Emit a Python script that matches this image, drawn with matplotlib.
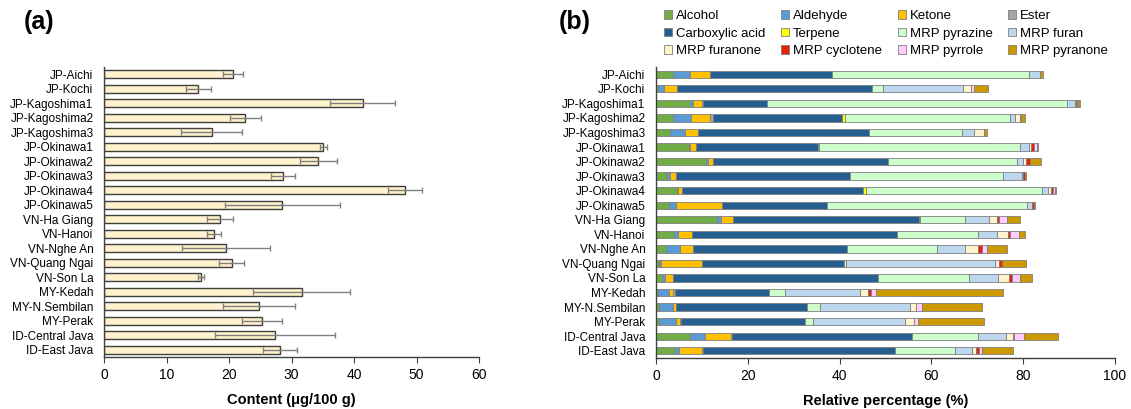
import numpy as np
import matplotlib
matplotlib.use('Agg')
import matplotlib.pyplot as plt

plt.rcParams['font.family'] = ['Liberation Sans', 'DejaVu Sans']

samples = ['JP-Aichi', 'JP-Kochi', 'JP-Kagoshima1', 'JP-Kagoshima2', 'JP-Kagoshima3',
           'JP-Okinawa1', 'JP-Okinawa2', 'JP-Okinawa3', 'JP-Okinawa4', 'JP-Okinawa5',
           'VN-Ha Giang', 'VN-Hanoi', 'VN-Nghe An', 'VN-Quang Ngai', 'VN-Son La',
           'MY-Kedah', 'MY-N.Sembilan', 'MY-Perak', 'ID-Central Java', 'ID-East Java']

# (a) total content and SD
content = [20.6, 15.1, 41.4, 22.6, 17.2, 35.1, 34.3, 28.6, 48.2, 28.5,
           18.6, 17.6, 19.5, 20.4, 15.5, 31.6, 24.8, 25.3, 27.3, 28.1]
content_sd = [1.6, 2.0, 5.2, 2.5, 4.9, 0.5, 2.9, 1.9, 2.7, 9.2,
              2.1, 1.1, 7.0, 2.0, 0.5, 7.7, 5.8, 3.2, 9.6, 2.7]

# (b) relative percentage by class
alcohol    = [3.8, 0.5, 7.4, 3.6, 3.0, 7.1, 11.0, 2.5, 4.5, 2.9, 13.2, 4.0, 2.25, 0.7, 1.2, 0.4, 0.7, 0.65, 7.3, 4.1]
aldehyde   = [3.5, 1.3, 0.7, 4.0, 3.3, 0.4, 0.4, 0.6, 0.2, 1.4, 1.0, 0.9, 3.05, 0.4, 0.7, 2.5, 3.05, 3.6, 3.4, 1.0]
ketone     = [4.4, 2.7, 2.0, 4.2, 2.9, 1.2, 1.1, 1.2, 0.9, 10.1, 2.6, 3.0, 2.8, 8.9, 1.7, 0.9, 0.7, 0.9, 5.7, 5.0]
ester      = [0.0, 0.0, 0.2, 0.6, 0.0, 0.0, 0.0, 0.0, 0.0, 0.0, 0.0, 0.0, 0.0, 0.0, 0.0, 0.4, 0.0, 0.2, 0.2, 0.2]
carboxylic = [26.6, 42.6, 13.9, 28.2, 37.2, 26.5, 38.0, 37.9, 39.6, 22.8, 40.4, 44.7, 33.6, 30.9, 44.8, 20.5, 28.5, 27.2, 39.1, 41.7]
terpene    = [0.0, 0.0, 0.0, 0.6, 0.0, 0.4, 0.0, 0.0, 0.5, 0.0, 0.4, 0.0, 0.0, 0.0, 0.0, 0.0, 0.0, 0.0, 0.0, 0.0]
pyrazine   = [42.9, 2.4, 65.4, 35.9, 20.3, 43.7, 28.2, 33.5, 38.3, 43.7, 9.8, 17.6, 19.6, 0.4, 19.9, 3.3, 2.7, 1.7, 14.5, 13.2]
furan      = [2.5, 17.3, 1.6, 1.1, 2.5, 1.9, 1.2, 4.0, 1.3, 1.0, 5.2, 4.1, 6.0, 32.5, 6.2, 16.4, 19.6, 20.0, 6.0, 3.6]
furanone   = [0.0, 1.9, 0.3, 1.0, 2.3, 0.6, 0.8, 0.3, 0.7, 0.0, 1.7, 2.3, 2.9, 0.9, 2.5, 1.8, 1.45, 1.9, 1.5, 0.9]
cyclotene  = [0.0, 0.0, 0.2, 0.0, 0.0, 0.6, 0.7, 0.4, 0.6, 0.5, 0.4, 0.6, 0.8, 0.6, 0.6, 0.6, 0.0, 0.0, 0.4, 0.6]
pyrrole    = [0.0, 0.65, 0.2, 0.4, 0.0, 0.5, 0.0, 0.0, 0.3, 0.0, 1.7, 1.8, 1.2, 0.0, 1.7, 1.2, 1.2, 0.9, 2.0, 0.65]
pyranone   = [0.6, 2.9, 0.4, 0.8, 0.6, 0.4, 2.5, 0.3, 0.3, 0.2, 2.8, 1.4, 4.3, 5.4, 2.7, 27.7, 13.1, 14.5, 7.5, 6.75]

classes = ['Alcohol', 'Aldehyde', 'Ketone', 'Ester', 'Carboxylic acid', 'Terpene',
           'MRP pyrazine', 'MRP furan', 'MRP furanone', 'MRP cyclotene', 'MRP pyrrole', 'MRP pyranone']
series = [alcohol, aldehyde, ketone, ester, carboxylic, terpene,
          pyrazine, furan, furanone, cyclotene, pyrrole, pyranone]
colors = ['#70AD47', '#5B9BD5', '#FFC000', '#A5A5A5', '#255E91', '#FFFF00',
          '#CCFFCC', '#BDD7EE', '#FFF2CC', '#E8220A', '#FFCCFF', '#CC9900']

fig = plt.figure(figsize=(11.31, 4.09), dpi=100)
ax1 = fig.add_axes([104 / 1131, 1 - 357 / 409, 375 / 1131, 290 / 409])
ax2 = fig.add_axes([656 / 1131, 1 - 358 / 409, 459 / 1131, 291 / 409])

y = np.arange(len(samples))

# (a)
ax1.barh(y, content, height=0.55, color='#FFF2CC', edgecolor='#3F3F3F', linewidth=1.0, zorder=2)
ax1.errorbar(content, y, xerr=content_sd, fmt='none', ecolor='#808080', elinewidth=1.0,
             capsize=2.5, capthick=1.0, zorder=3)
ax1.set_xlim(0, 60)
ax1.set_xticks(np.arange(0, 61, 10))
ax1.set_ylim(len(samples) - 0.5, -0.5)
ax1.set_yticks(y)
ax1.set_yticklabels(samples)
ax1.set_xlabel('Content (μg/100 g)', fontsize=10.5, fontweight='bold', labelpad=8)

# (b)
left = np.zeros(len(samples))
for name, vals, c in zip(classes, series, colors):
    ax2.barh(y, vals, left=left, height=0.5, color=c, edgecolor='#7F7F7F',
             linewidth=0.6, label=name, zorder=2)
    left += np.array(vals)
ax2.set_xlim(0, 100)
ax2.set_xticks(np.arange(0, 101, 20))
ax2.set_ylim(len(samples) - 0.5, -0.5)
ax2.set_yticks(y)
ax2.set_yticklabels(samples)
ax2.set_xlabel('Relative percentage (%)', fontsize=10.5, fontweight='bold', labelpad=8)

for ax in (ax1, ax2):
    for s in ('top', 'right'):
        ax.spines[s].set_visible(False)
    for s in ('left', 'bottom'):
        ax.spines[s].set_color('#404040')
        ax.spines[s].set_linewidth(1.0)
    ax.tick_params(axis='y', length=0, labelsize=8.5, pad=7.5)
    ax.tick_params(axis='x', length=4, color='#404040', labelsize=10, pad=4)

# legend: reorder so columns fill row by row
order = [0, 4, 8, 1, 5, 9, 2, 6, 10, 3, 7, 11]
h, l = ax2.get_legend_handles_labels()
leg = fig.legend([h[i] for i in order], [l[i] for i in order], ncol=4,
                 loc='upper left', bbox_to_anchor=(664 / 1131, 1 - 10 / 409),
                 frameon=False, fontsize=9.5, handlelength=0.6, handleheight=0.6,
                 handletextpad=0.3, columnspacing=1.2, labelspacing=0.42,
                 borderaxespad=0, borderpad=0)

fig.text(24 / 1131, 1 - 22 / 409, '(a)', fontsize=18, fontweight='bold', va='center')
fig.text(559 / 1131, 1 - 22 / 409, '(b)', fontsize=18, fontweight='bold', va='center')

fig.savefig('out.png', dpi=100)
